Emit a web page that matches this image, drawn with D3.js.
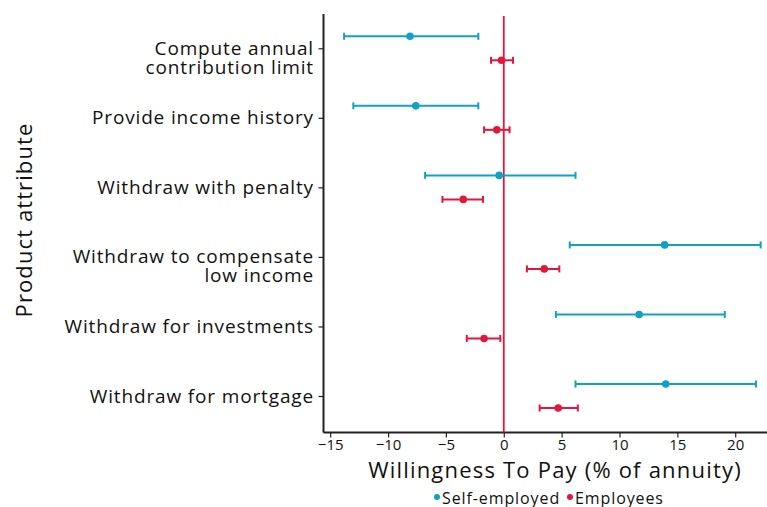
<!DOCTYPE html>
<html><head><meta charset="utf-8">
<script src="https://cdn.jsdelivr.net/npm/d3@7"></script>
<style>body{margin:0;background:#fff}svg{display:block}text{font-family:"Open Sans",sans-serif;fill:#111}</style>
</head><body>
<svg id="c" width="767" height="507"></svg>
<script>
const categories = ["Compute annual\ncontribution limit","Provide income history","Withdraw with penalty","Withdraw to compensate\nlow income","Withdraw for investments","Withdraw for mortgage"];
const series = ["Self-employed","Employees"];
const colors = ["#11a1c4","#e3173b"];
const selfEst = [-8.1,-7.6,-0.4,13.9,11.7,14.0];
const selfLow = [-13.8,-13.0,-6.8,5.7,4.5,6.2];
const selfHigh = [-2.2,-2.2,6.2,22.2,19.1,21.8];
const empEst = [-0.2,-0.6,-3.5,3.5,-1.7,4.7];
const empLow = [-1.1,-1.7,-5.3,2.0,-3.2,3.1];
const empHigh = [0.8,0.5,-1.8,4.8,-0.3,6.4];
const xTicks = [-15,-10,-5,0,5,10,15,20];

const svg = d3.select("#c");
const pLeft = 323.5, pTop = 14, pBottom = 432.5, pRight = 767;
const x = d3.scaleLinear().domain([-15,20]).range([330.2,735.2]);
const y = d3.scalePoint().domain(categories).range([48.3,396]);
const off = 12;

// axes
const xa = svg.append("g").attr("transform",`translate(0,${pBottom})`)
  .call(d3.axisBottom(x).tickValues(xTicks).tickSize(5).tickPadding(2).tickFormat(d=>d<0?"\u2212"+Math.abs(d):d));
xa.select(".domain").remove();
xa.selectAll(".tick line").attr("stroke","#222").attr("stroke-width",1.2);
xa.selectAll("text").style("font-size","15px").attr("fill","#111");
svg.append("line").attr("x1",pLeft).attr("x2",pRight).attr("y1",pBottom).attr("y2",pBottom).attr("stroke","#222").attr("stroke-width",2);

const ya = svg.append("g").attr("transform",`translate(${pLeft},0)`)
  .call(d3.axisLeft(y).tickSize(5).tickFormat(""));
ya.select(".domain").remove();
ya.selectAll(".tick line").attr("stroke","#222").attr("stroke-width",1.2);
svg.append("line").attr("x1",pLeft).attr("x2",pLeft).attr("y1",pTop).attr("y2",pBottom).attr("stroke","#222").attr("stroke-width",2);

// y labels
categories.forEach(c=>{
  const lines = c.split("\n");
  lines.forEach((l,i)=>svg.append("text").attr("text-anchor","end")
    .style("font-size","19px").style("letter-spacing","0.85px")
    .attr("x",314).attr("y",y(c)+6.5+i*19).text(l));
});

// zero line
svg.append("line").attr("x1",x(0)).attr("x2",x(0)).attr("y1",16).attr("y2",pBottom).attr("stroke","#e3173b").attr("stroke-width",1.8);

// series
const sets = [
  {est:selfEst,lo:selfLow,hi:selfHigh,dy:-off,col:colors[0]},
  {est:empEst,lo:empLow,hi:empHigh,dy:off,col:colors[1]}
];
sets.forEach(s=>{
  const g = svg.append("g");
  categories.forEach((c,i)=>{
    const yy = y(c)+s.dy;
    g.append("line").attr("x1",x(s.lo[i])).attr("x2",x(s.hi[i])).attr("y1",yy).attr("y2",yy).attr("stroke",s.col).attr("stroke-width",2);
    [s.lo[i],s.hi[i]].forEach(v=>g.append("line").attr("x1",x(v)).attr("x2",x(v)).attr("y1",yy-3.5).attr("y2",yy+3.5).attr("stroke",s.col).attr("stroke-width",2));
    g.append("circle").attr("cx",x(s.est[i])).attr("cy",yy).attr("r",3.8).attr("fill",s.col);
  });
});

// titles
svg.append("text").attr("x",555).attr("y",478).attr("text-anchor","middle").style("font-size","22px").style("letter-spacing","1.2px").text("Willingness To Pay (% of annuity)");
svg.append("text").attr("transform","translate(32,220) rotate(-90)").attr("text-anchor","middle").style("font-size","22px").style("letter-spacing","1.1px").text("Product attribute");

// legend
const lg = svg.append("g");
const lx = [437,570];
series.forEach((s,i)=>{
  lg.append("circle").attr("cx",lx[i]).attr("cy",497).attr("r",3).attr("fill",colors[i]);
  lg.append("text").attr("x",lx[i]+5).attr("y",503.5).style("font-size","16px").style("letter-spacing","0.9px").text(s);
});
</script>
</body></html>
